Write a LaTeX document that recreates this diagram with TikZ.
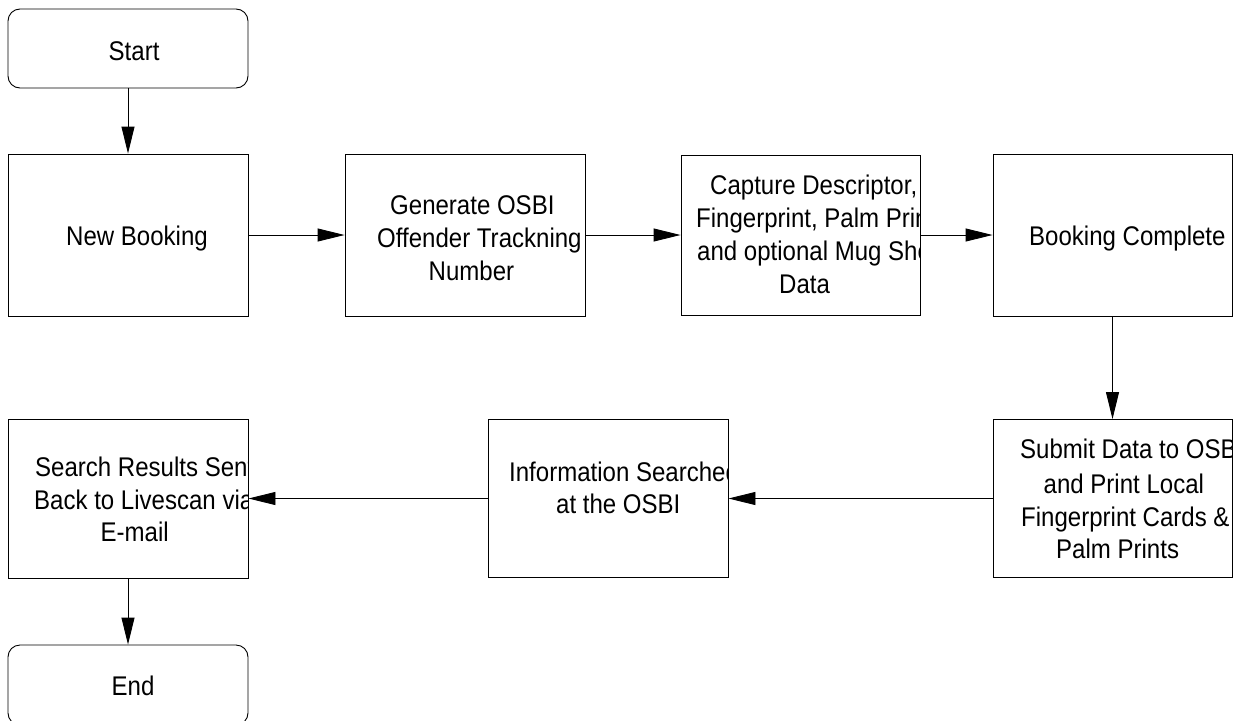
\documentclass[tikz,border=0pt]{standalone}
\usepackage{fontspec}
\setmainfont{Liberation Sans}[FakeStretch=0.89]
\usetikzlibrary{arrows.meta}
\tikzset{
  box/.style={draw=black, line width=0.9pt, minimum width=240pt, inner sep=0pt},
  term/.style={box, rounded corners=12pt},
  ln/.style={font=\fontsize{27}{32}\selectfont, anchor=base west, inner sep=0pt},
  conn/.style={draw=black, line width=0.9pt, -{Triangle[length=27pt,width=13pt]}}
}
\begin{document}
\begin{tikzpicture}[x=1pt,y=-1pt]
\useasboundingbox (0,0) rectangle (1246,720);
\clip (0,0) rectangle (1246,720);
% boxes
\node[term, minimum height=79pt] (start) at (128,48.5) {};
\node[box, minimum height=162pt] (nb) at (128,235) {};
\node[box, minimum height=162pt] (gen) at (465,235) {};
\node[box, minimum height=160pt, minimum width=239pt] (cap) at (800.5,235) {};
\node[box, minimum height=162pt, minimum width=239pt] (bc) at (1112.5,235) {};
\node[box, minimum height=158pt, minimum width=239pt] (sub) at (1112.5,498.5) {};
\node[box, minimum height=158pt] (info) at (608,498.5) {};
\node[box, minimum height=159pt] (srch) at (128,498.5) {};
\node[term, minimum height=80pt] (end) at (128,685) {};
% labels
\node[ln] (tstart) at (108.5,60) {Start};
\node[ln] (tnb) at (66,245) {New Booking};
\node[ln] (tgen1) at (390,214.5) {Generate OSBI};
\node[ln] (tgen2) at (377,247.5) {Offender Trackning};
\node[ln] (tgen3) at (428.5,280) {Number};
\begin{scope}
\clip (cap.south west) rectangle (cap.north east);
\node[ln] (tcap1) at (710,194.5) {Capture Descriptor,};
\node[ln] (tcap2) at (696,227.5) {Fingerprint, Palm Print,};
\node[ln] (tcap3) at (697,260.5) {and optional Mug Shot};
\node[ln] (tcap4) at (779,293.5) {Data};
\end{scope}
\node[ln] (tbc) at (1029,245) {Booking Complete};
\begin{scope}
\clip (sub.south west) rectangle (sub.north east);
\node[ln] (tsub1) at (1020,458.5) {Submit Data to OSBI};
\node[ln] (tsub2) at (1043.5,493) {and Print Local};
\node[ln] (tsub3) at (1021,526.5) {Fingerprint Cards \&};
\node[ln] (tsub4) at (1056,558.5) {Palm Prints};
\end{scope}
\begin{scope}
\clip (info.south west) rectangle (info.north east);
\node[ln] (tinfo1) at (509,481) {Information Searched};
\node[ln] (tinfo2) at (556,513.5) {at the OSBI};
\end{scope}
\begin{scope}
\clip (srch.south west) rectangle (srch.north east);
\node[ln] (tsrch1) at (35,476) {Search Results Sent};
\node[ln] (tsrch2) at (34,509) {Back to Livescan via};
\node[ln] (tsrch3) at (100.5,541.5) {E-mail};
\end{scope}
\node[ln] (tend) at (111.5,695) {End};
% connectors
\draw[conn] (start.south) -- (nb.north);
\draw[conn] (nb.east) -- (gen.west);
\draw[conn] (gen.east) -- (cap.west);
\draw[conn] (cap.east) -- (bc.west);
\draw[conn] (bc.south) -- (sub.north);
\draw[conn] (sub.west) -- (info.east);
\draw[conn] (info.west) -- (srch.east);
\draw[conn] (srch.south) -- (end.north);
\end{tikzpicture}
\end{document}
